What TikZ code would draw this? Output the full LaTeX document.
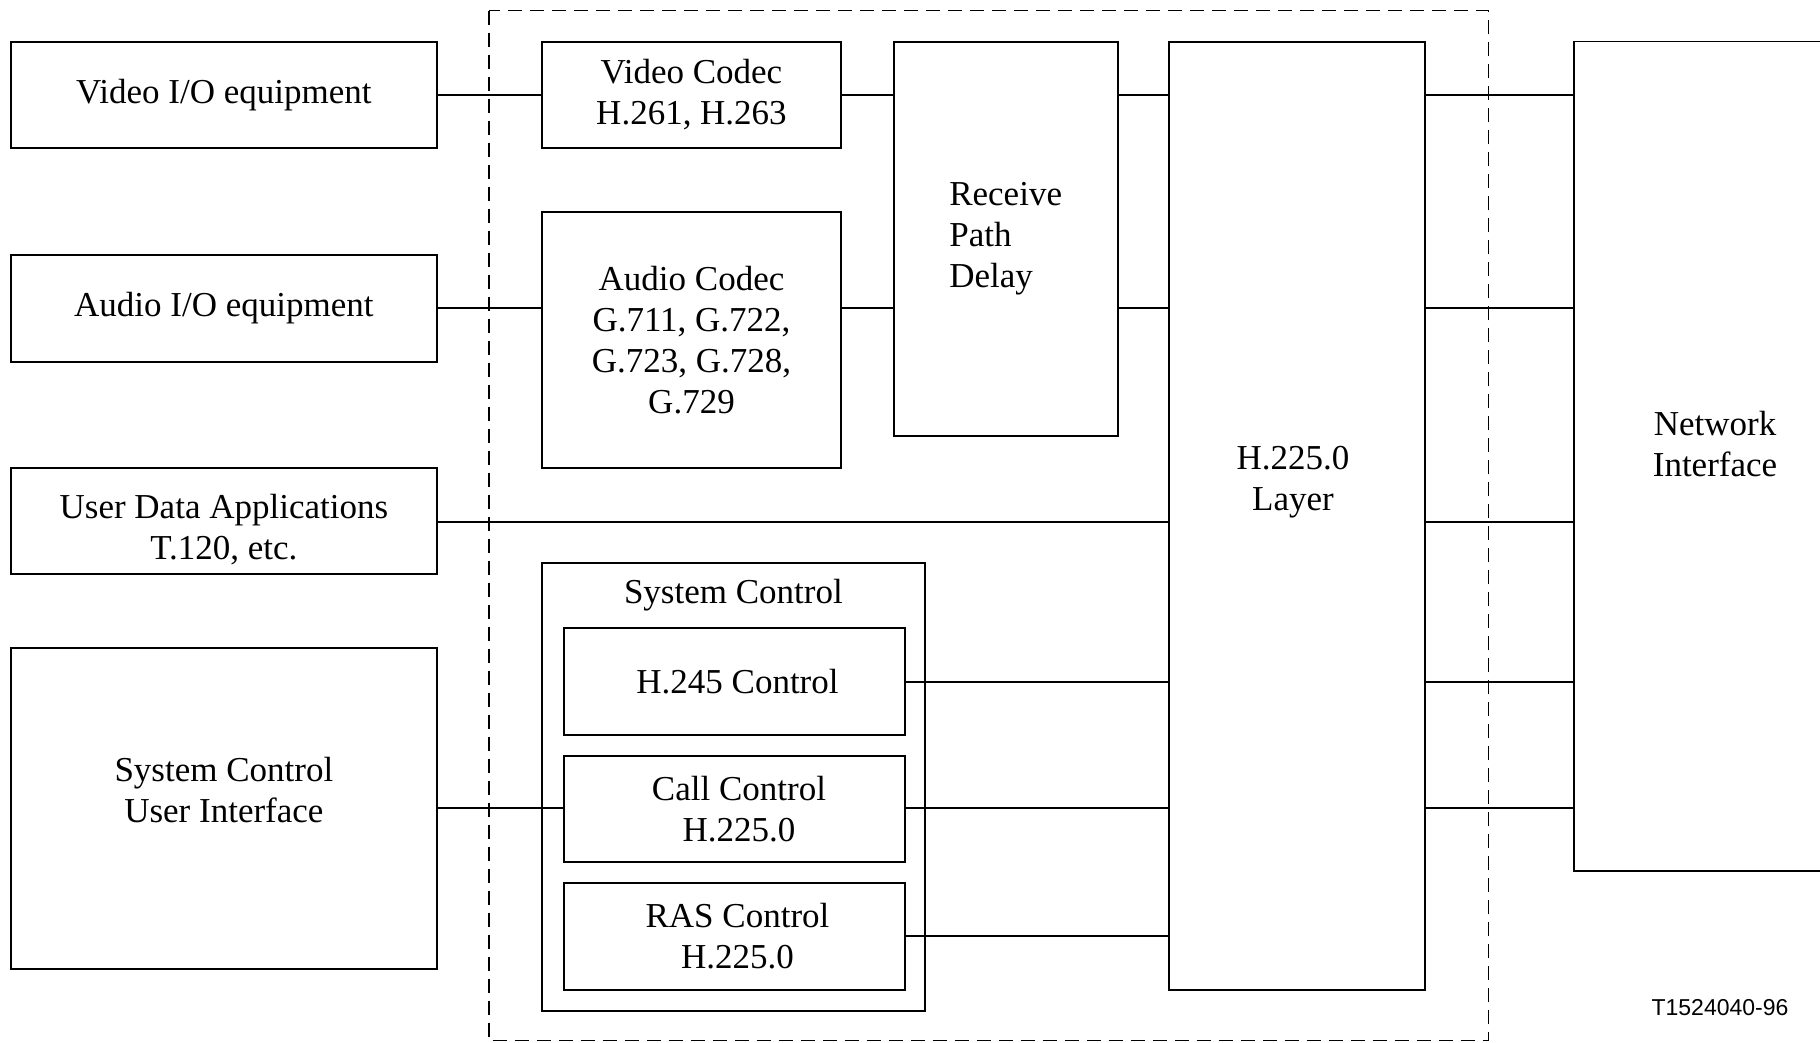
\documentclass[tikz,border=0pt]{standalone}
\usepackage{fontspec}
\setmainfont{Liberation Serif}
\newfontfamily\figsans{Liberation Sans}
\begin{document}
\begin{tikzpicture}[x=1pt,y=-1pt,
  box/.style={draw, line width=1.8pt, rectangle, inner sep=0pt, align=center,
              font=\fontsize{35}{41}\selectfont},
  txt/.style={inner sep=0pt, align=center, font=\fontsize{35}{41}\selectfont},
  conn/.style={line width=1.8pt},
  frame/.style={line width=1.5pt, dash pattern=on 14pt off 8pt}]
\useasboundingbox (0,0) rectangle (1820,1043);

% left column
\node[box, minimum width=426.5pt, minimum height=106pt] (vio) at (223.9,94.7) {Video I/O equipment};
\node[box, minimum width=426.5pt, minimum height=106.7pt] (aio) at (223.9,308.3) {Audio I/O equipment};
\node[box, minimum width=426.5pt, minimum height=106.6pt] (uda) at (223.9,521) {};
\node[txt] (udalabel) at (223.9,530) {User Data Applications\\T.120, etc.};
\node[box, minimum width=426.5pt, minimum height=320.4pt] (scui) at (223.9,808.5) {};
\node[txt] (scuilabel) at (223.9,790) {System Control\\User Interface};

% dashed frame
\draw[frame] (488.8,10.7) rectangle (1488.5,1040.7);

% codecs
\node[box, minimum width=298.6pt, minimum height=106pt] (vcodec) at (691.5,94.7) {Video Codec\\H.261, H.263};
\node[box, minimum width=298.6pt, minimum height=256pt] (acodec) at (691.5,339.7) {Audio Codec\\G.711, G.722,\\G.723, G.728,\\G.729};
\node[box, align=left, minimum width=224.1pt, minimum height=394pt] (rpd) at (1005.65,238.7) {Receive\\Path\\Delay};

% system control
\node[box, minimum width=382.4pt, minimum height=447.7pt] (sysctl) at (733.4,787.15) {};
\node[txt] (sysctllabel) at (733.4,595) {System Control};
\node[box, minimum width=340.8pt, minimum height=107.3pt] (h245) at (734.3,681.35) {};
\node[txt] (h245label) at (737.5,681.35) {H.245 Control};
\node[box, minimum width=340.8pt, minimum height=106pt] (call) at (734.3,808.7) {};
\node[txt] (calllabel) at (739,808.7) {Call Control\\H.225.0};
\node[box, minimum width=340.8pt, minimum height=107.3pt] (ras) at (734.3,936.35) {};
\node[txt] (raslabel) at (737.5,936.35) {RAS Control\\H.225.0};

% H.225.0 layer
\node[box, minimum width=255.8pt, minimum height=948.3pt] (h225) at (1297.2,515.85) {};
\node[txt] (h225label) at (1293,482) {H.225.0\\Layer};

% network interface (open to the right)
\node[inner sep=0pt, minimum width=282pt, minimum height=829pt] (netif) at (1715.2,456.2) {};
\draw[conn] (netif.north east) -- (netif.north west) -- (netif.south west) -- (netif.south east);
\node[txt] (netiflabel) at (1715,444) {Network\\Interface};

% connectors
\draw[conn] (vio.east) -- (vcodec.west);
\draw[conn] (vcodec.east) -- (vcodec.east -| rpd.west);
\draw[conn] (aio.east) -- (aio.east -| acodec.west);
\coordinate (ay) at (0,308);
\draw[conn] (acodec.east |- ay) -- (rpd.west |- ay);
\coordinate (vy) at (0,94.7);
\draw[conn] (rpd.east |- vy) -- (h225.west |- vy);
\draw[conn] (rpd.east |- ay) -- (h225.west |- ay);
\coordinate (uy) at (0,521.7);
\draw[conn] (uda.east |- uy) -- (h225.west |- uy);
\coordinate (cy) at (0,808.3);
\draw[conn] (scui.east |- cy) -- (call.west |- cy);
\coordinate (hy) at (0,682);
\draw[conn] (h245.east |- hy) -- (h225.west |- hy);
\draw[conn] (call.east |- cy) -- (h225.west |- cy);
\coordinate (ry) at (0,935.7);
\draw[conn] (ras.east |- ry) -- (h225.west |- ry);
\foreach \c in {vy,ay,uy,hy,cy}{
  \draw[conn] (h225.east |- \c) -- (netif.west |- \c);
}

% figure id
\node[inner sep=0pt, font=\figsans\fontsize{23}{26}\selectfont] (figid) at (1720,1008) {T1524040-96};
\end{tikzpicture}
\end{document}
